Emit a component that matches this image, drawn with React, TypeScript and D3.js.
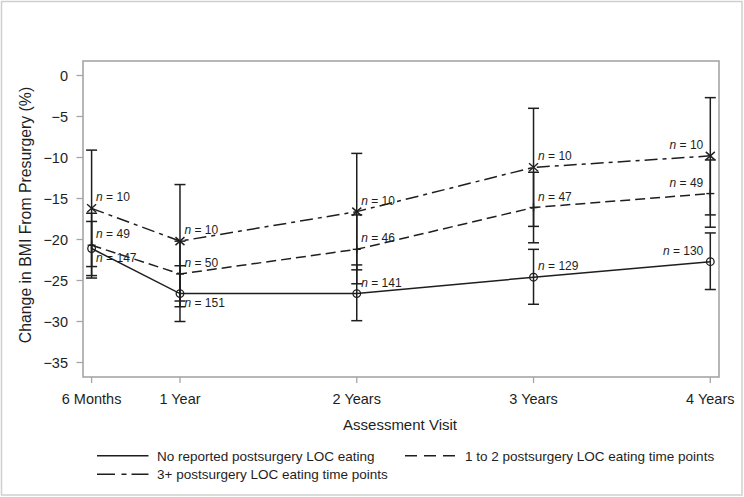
import React from "react";
import * as d3 from "d3";

const times = [0.5, 1, 2, 3, 4];
const tickLabels = ["6 Months", "1 Year", "2 Years", "3 Years", "4 Years"];
const yTicks = [0, -5, -10, -15, -20, -25, -30, -35];

const noLocMean = [-21.1, -26.6, -26.6, -24.6, -22.7];
const noLocLower = [-24.4, -30.0, -29.9, -27.9, -26.1];
const noLocUpper = [-17.8, -23.2, -23.1, -21.2, -19.2];
const noLocN = [147, 151, 141, 129, 130];

const oneTwoMean = [-20.7, -24.2, -21.2, -16.1, -14.4];
const oneTwoLower = [-24.7, -28.2, -25.4, -20.4, -18.5];
const oneTwoUpper = [-16.8, -20.2, -17.0, -11.8, -10.3];
const oneTwoN = [49, 50, 46, 47, 49];

const threeMean = [-16.2, -20.2, -16.6, -11.2, -9.8];
const threeLower = [-23.3, -27.5, -23.7, -18.4, -17.0];
const threeUpper = [-9.1, -13.3, -9.5, -4.0, -2.7];
const threeN = [10, 10, 10, 10, 10];

const legendLabels = [
  "No reported postsurgery LOC eating",
  "1 to 2 postsurgery LOC eating time points",
  "3+ postsurgery LOC eating time points",
];

const FONT = "'Liberation Sans', Arial, Helvetica, sans-serif";
const INK = "#1e1e1e";
const FRAME = "#a6a6a6";

export default function App() {
  const x = d3.scaleLinear().domain([0.5, 4]).range([91.6, 710.3]);
  const y = d3.scaleLinear().domain([-35, 0]).range([362.5, 75.5]);
  const frame = { left: 83, right: 719, top: 61, bottom: 377 };

  const series = [
    { mean: noLocMean, lower: noLocLower, upper: noLocUpper, n: noLocN, dash: "none", marker: "circle" },
    { mean: oneTwoMean, lower: oneTwoLower, upper: oneTwoUpper, n: oneTwoN, dash: "10,5", marker: "plus" },
    { mean: threeMean, lower: threeLower, upper: threeUpper, n: threeN, dash: "13,5,4,5", marker: "x" },
  ];

  const line = d3
    .line<number>()
    .x((_, i) => x(times[i]))
    .y((d) => y(d));

  const cap = 5.5;

  const marker = (kind: string, cx: number, cy: number, key: string) => {
    if (kind === "circle")
      return <circle key={key} cx={cx} cy={cy} r={3.8} fill="none" stroke={INK} strokeWidth={1.3} />;
    if (kind === "plus")
      return (
        <g key={key} stroke={INK} strokeWidth={1.4}>
          <line x1={cx - 4} x2={cx + 4} y1={cy} y2={cy} />
          <line x1={cx} x2={cx} y1={cy - 4} y2={cy + 4} />
        </g>
      );
    return (
      <g key={key} stroke={INK} strokeWidth={1.4}>
        <line x1={cx - 4.5} x2={cx + 4.5} y1={cy - 4} y2={cy + 4} />
        <line x1={cx - 4.5} x2={cx + 4.5} y1={cy + 4} y2={cy - 4} />
      </g>
    );
  };

  const nLabel = (si: number, i: number) => {
    const s = series[si];
    const cx = x(times[i]);
    const cy = y(s.mean[i]);
    const last = i === times.length - 1;
    const below = si === 0 && i < 2;
    return (
      <text
        key={`n${si}-${i}`}
        x={last ? cx - 7 : cx + 4.5}
        y={below ? cy + 13 : cy - 7}
        textAnchor={last ? "end" : "start"}
        fontSize={12}
        fontFamily={FONT}
        fill={INK}
      >
        <tspan fontStyle="italic">n</tspan>
        {` = ${s.n[i]}`}
      </text>
    );
  };

  return (
    <svg
      width={744}
      height={497}
      style={{ position: "absolute", left: 0, top: 0, background: "#fff" }}
    >
      <rect x={0} y={0} width={744} height={497} fill="#fff" />
      <rect x={1.5} y={1.5} width={740.5} height={493.5} fill="none" stroke="#cfcfcf" strokeWidth={1.5} />

      {/* plot frame */}
      <rect
        x={frame.left}
        y={frame.top}
        width={frame.right - frame.left}
        height={frame.bottom - frame.top}
        fill="none"
        stroke={FRAME}
        strokeWidth={1.6}
      />

      {/* y axis ticks */}
      {yTicks.map((t) => (
        <g key={`yt${t}`}>
          <line x1={frame.left - 6.5} x2={frame.left} y1={y(t)} y2={y(t)} stroke={FRAME} strokeWidth={1.3} />
          <text
            x={frame.left - 15}
            y={y(t)}
            dy="0.36em"
            textAnchor="end"
            fontSize={14.5}
            fontFamily={FONT}
            fill={INK}
          >
            {t === 0 ? "0" : `\u2212${Math.abs(t)}`}
          </text>
        </g>
      ))}

      {/* x axis ticks */}
      {times.map((t, i) => (
        <g key={`xt${i}`}>
          <line x1={x(t)} x2={x(t)} y1={frame.bottom} y2={frame.bottom + 6} stroke={FRAME} strokeWidth={1.3} />
          <text x={x(t)} y={403.5} textAnchor="middle" fontSize={14.5} fontFamily={FONT} fill={INK}>
            {tickLabels[i]}
          </text>
        </g>
      ))}

      <text x={400} y={430} textAnchor="middle" fontSize={15} fontFamily={FONT} fill={INK}>
        Assessment Visit
      </text>
      <text
        transform="translate(30.5,215) rotate(-90)"
        textAnchor="middle"
        fontSize={15.8}
        fontFamily={FONT}
        fill={INK}
      >
        Change in BMI From Presurgery (%)
      </text>

      {/* error bars */}
      {series.map((s, si) =>
        times.map((t, i) => {
          const cx = x(t);
          return (
            <g key={`eb${si}-${i}`} stroke={INK} strokeWidth={1.5}>
              <line x1={cx} x2={cx} y1={y(s.lower[i])} y2={y(s.upper[i])} />
              <line x1={cx - cap} x2={cx + cap} y1={y(s.lower[i])} y2={y(s.lower[i])} />
              <line x1={cx - cap} x2={cx + cap} y1={y(s.upper[i])} y2={y(s.upper[i])} />
            </g>
          );
        })
      )}

      {/* series lines */}
      {series.map((s, si) => (
        <path
          key={`ln${si}`}
          d={line(s.mean) || ""}
          fill="none"
          stroke={INK}
          strokeWidth={1.5}
          strokeDasharray={s.dash}
        />
      ))}

      {/* markers */}
      {series.map((s, si) =>
        times.map((t, i) => marker(s.marker, x(t), y(s.mean[i]), `m${si}-${i}`))
      )}

      {/* n labels */}
      {series.map((s, si) => times.map((_, i) => nLabel(si, i)))}

      {/* legend */}
      <g fontFamily={FONT} fontSize={13.5} fill={INK}>
        <line x1={97} x2={148.5} y1={455.7} y2={455.7} stroke={INK} strokeWidth={1.5} />
        <text x={157} y={460.5}>{legendLabels[0]}</text>
        <line x1={405} x2={455} y1={455.7} y2={455.7} stroke={INK} strokeWidth={1.5} strokeDasharray="12,7" />
        <text x={465} y={460.5}>{legendLabels[1]}</text>
        <line x1={97} x2={148.5} y1={474.3} y2={474.3} stroke={INK} strokeWidth={1.5} strokeDasharray="18,6.5,5,5,17" />
        <text x={157} y={479}>{legendLabels[2]}</text>
      </g>
    </svg>
  );
}
